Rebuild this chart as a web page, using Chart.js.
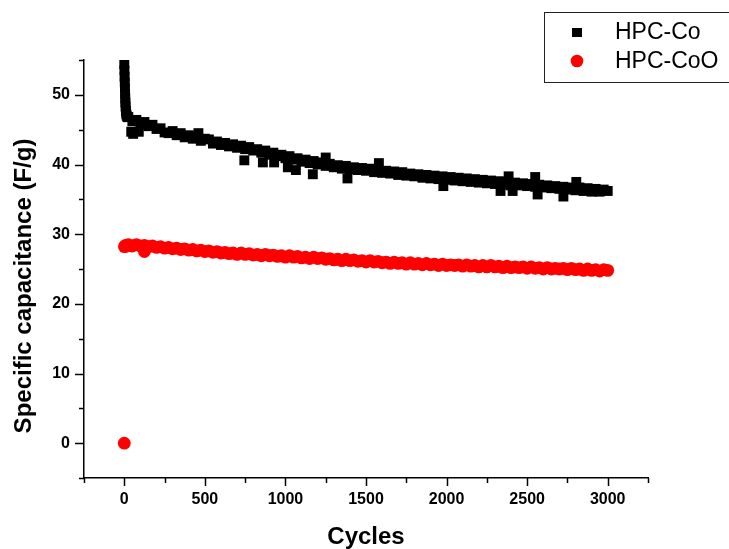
<!DOCTYPE html>
<html>
<head>
<meta charset="utf-8">
<script src="https://cdn.jsdelivr.net/npm/chart.js@4/dist/chart.umd.min.js"></script>
<style>
  html, body { margin: 0; padding: 0; background: #fff; }
  #wrap { width: 729px; height: 549px; position: relative; }
</style>
</head>
<body>
<div id="wrap"><canvas id="miGrafica" width="729" height="549"></canvas></div>
<script>
// Datos (ciclo -> capacitancia especifica F/g)
const seriesNames = ['HPC-Co', 'HPC-CoO'];

// rejilla comun de ciclos (cada 25)
const cycles = [
  25, 50, 75, 100, 125, 150, 175, 200, 225, 250,
  275, 300, 325, 350, 375, 400, 425, 450, 475, 500,
  525, 550, 575, 600, 625, 650, 675, 700, 725, 750,
  775, 800, 825, 850, 875, 900, 925, 950, 975, 1000,
  1025, 1050, 1075, 1100, 1125, 1150, 1175, 1200, 1225, 1250,
  1275, 1300, 1325, 1350, 1375, 1400, 1425, 1450, 1475, 1500,
  1525, 1550, 1575, 1600, 1625, 1650, 1675, 1700, 1725, 1750,
  1775, 1800, 1825, 1850, 1875, 1900, 1925, 1950, 1975, 2000,
  2025, 2050, 2075, 2100, 2125, 2150, 2175, 2200, 2225, 2250,
  2275, 2300, 2325, 2350, 2375, 2400, 2425, 2450, 2475, 2500,
  2525, 2550, 2575, 2600, 2625, 2650, 2675, 2700, 2725, 2750,
  2775, 2800, 2825, 2850, 2875, 2900, 2925, 2950, 2975, 3000
];

// HPC-Co
const startCyclesCo = [0, 1, 2, 3, 4, 5, 6, 7, 8, 10, 12, 15, 20];
const startCapCo = [54.4, 53.5, 52.6, 51.8, 51.0, 50.2, 49.5, 48.9, 48.3, 47.7, 47.3, 47.0, 46.8];
const capCo = [
  46.8, 46.2, 46.4, 45.8, 46.1, 45.5, 45.7, 45.1, 45.2, 44.6,
  44.5, 44.8, 44.2, 44.5, 43.9, 44.2, 43.7, 44.0, 43.4, 43.7,
  43.6, 43.0, 43.3, 42.8, 43.1, 42.6, 42.9, 42.4, 42.7, 42.2,
  42.5, 42.0, 42.2, 41.7, 42.0, 41.4, 41.7, 41.2, 41.4, 40.9,
  41.2, 40.7, 40.9, 40.4, 40.7, 40.2, 40.5, 40.0, 40.3, 39.8,
  40.1, 39.6, 39.9, 39.4, 39.8, 39.3, 39.6, 39.2, 39.5, 39.1,
  39.4, 38.9, 39.3, 38.8, 39.1, 38.7, 39.0, 38.5, 38.9, 38.4,
  38.7, 38.3, 38.6, 38.1, 38.5, 38.0, 38.4, 37.9, 38.3, 37.8,
  38.2, 37.7, 38.1, 37.6, 38.0, 37.5, 37.9, 37.4, 37.8, 37.3,
  37.7, 37.2, 37.6, 37.1, 37.5, 37.0, 37.4, 37.0, 37.3, 36.9,
  37.2, 36.8, 37.1, 36.7, 37.0, 36.6, 36.9, 36.5, 36.8, 36.4,
  36.7, 36.3, 36.7, 36.2, 36.6, 36.1, 36.5, 36.1, 36.4, 36.2
];
// puntos sueltos (fuera de la banda)
const spikeCyclesCo = [43, 55, 90, 460, 745, 860, 930, 1015, 1065, 1170, 1250, 1385, 1580, 1980, 2335, 2385, 2410, 2550, 2565, 2725, 2805];
const spikeCapCo = [44.7, 44.4, 44.7, 44.5, 40.6, 40.3, 40.3, 39.6, 39.2, 38.6, 41.0, 38.0, 40.2, 36.9, 36.2, 38.3, 36.2, 38.2, 35.7, 35.4, 37.5];

// HPC-CoO
const startCyclesCoO = [0, 1, 5, 10, 15, 20];
const startCapCoO = [0.0, 28.2, 28.3, 28.4, 28.3, 28.4];
const capCoO = [
  28.5, 28.3, 28.5, 28.3, 28.4, 28.2, 28.3, 28.1, 28.2, 28.0,
  28.1, 27.9, 28.0, 27.8, 27.9, 27.7, 27.8, 27.6, 27.7, 27.5,
  27.6, 27.4, 27.5, 27.3, 27.4, 27.2, 27.3, 27.1, 27.3, 27.1,
  27.2, 27.0, 27.1, 26.9, 27.1, 26.9, 27.0, 26.8, 26.9, 26.7,
  26.9, 26.7, 26.8, 26.6, 26.7, 26.5, 26.7, 26.5, 26.6, 26.4,
  26.5, 26.3, 26.4, 26.2, 26.4, 26.2, 26.3, 26.1, 26.2, 26.0,
  26.2, 26.0, 26.1, 25.9, 26.0, 25.8, 26.0, 25.8, 25.9, 25.7,
  25.9, 25.7, 25.8, 25.6, 25.8, 25.6, 25.7, 25.5, 25.7, 25.5,
  25.6, 25.5, 25.6, 25.4, 25.6, 25.4, 25.5, 25.3, 25.5, 25.3,
  25.5, 25.3, 25.4, 25.2, 25.4, 25.2, 25.3, 25.2, 25.3, 25.1,
  25.3, 25.1, 25.2, 25.0, 25.2, 25.0, 25.1, 25.0, 25.1, 24.9,
  25.1, 24.9, 25.0, 24.8, 25.0, 24.8, 24.9, 24.7, 24.9, 24.8
];
const spikeCyclesCoO = [125];
const spikeCapCoO = [27.5];

// ejes
const xTickLabels = [0, 500, 1000, 1500, 2000, 2500, 3000];
const yTickLabels = [0, 10, 20, 30, 40, 50];

function aPuntos(xs, ys) {
  return xs.map((x, i) => ({ x: x, y: ys[i] }));
}

const puntosCo = aPuntos(startCyclesCo, startCapCo)
  .concat(aPuntos(cycles, capCo))
  .concat(aPuntos(spikeCyclesCo, spikeCapCo));
const puntosCoO = aPuntos(startCyclesCoO, startCapCoO)
  .concat(aPuntos(cycles, capCoO))
  .concat(aPuntos(spikeCyclesCoO, spikeCapCoO));

const FUENTE = 'Arial, "Liberation Sans", sans-serif';

// marcas de los ejes, titulos y leyenda
const extras = {
  id: 'extras',
  afterDraw(chart) {
    const ctx = chart.ctx;
    const xs = chart.scales.x, ys = chart.scales.y;
    const area = chart.chartArea;
    ctx.save();
    ctx.strokeStyle = '#000';
    ctx.lineWidth = 1.5;
    // marcas del eje x
    xs.ticks.forEach(t => {
      const px = Math.round(xs.getPixelForValue(t.value)) + 0.5;
      const largo = xTickLabels.includes(t.value) ? 8 : 5;
      ctx.beginPath();
      ctx.moveTo(px, area.bottom);
      ctx.lineTo(px, area.bottom + largo);
      ctx.stroke();
    });
    // marcas del eje y
    ys.ticks.forEach(t => {
      const py = Math.round(ys.getPixelForValue(t.value)) + 0.5;
      const largo = yTickLabels.includes(t.value) ? 9 : 5;
      ctx.beginPath();
      ctx.moveTo(area.left, py);
      ctx.lineTo(area.left - largo, py);
      ctx.stroke();
    });

    // titulos de los ejes
    ctx.fillStyle = '#000';
    ctx.font = 'bold 24px ' + FUENTE;
    ctx.textAlign = 'center';
    ctx.textBaseline = 'middle';
    ctx.fillText('Cycles', (area.left + area.right) / 2, 537);
    ctx.save();
    ctx.translate(24, 286);
    ctx.rotate(-Math.PI / 2);
    ctx.font = 'bold 24px ' + FUENTE;
    ctx.fillText('Specific capacitance (F/g)', 0, 0);
    ctx.restore();

    // leyenda
    ctx.lineWidth = 1;
    ctx.strokeStyle = '#222';
    ctx.strokeRect(544.5, 12.5, 200, 70);
    ctx.fillStyle = '#000';
    ctx.fillRect(572, 28, 10, 9);
    ctx.fillStyle = '#ff0000';
    ctx.beginPath();
    ctx.arc(577, 61, 6.3, 0, Math.PI * 2);
    ctx.fill();
    ctx.fillStyle = '#000';
    ctx.font = '23px ' + FUENTE;
    ctx.textAlign = 'left';
    ctx.fillText(seriesNames[0], 615, 33);
    ctx.fillText(seriesNames[1], 615, 62);
    ctx.restore();
  }
};

let ctx = document.getElementById('miGrafica').getContext('2d');
let miGrafica = new Chart(ctx, {
  type: 'scatter',
  data: {
    datasets: [{
      label: seriesNames[0],
      data: puntosCo,
      pointStyle: 'rect',
      pointRadius: 7,
      backgroundColor: '#000',
      borderWidth: 0
    }, {
      label: seriesNames[1],
      data: puntosCoO,
      pointStyle: 'circle',
      pointRadius: 6.4,
      backgroundColor: '#ff0000',
      borderWidth: 0
    }]
  },
  options: {
    responsive: false,
    animation: false,
    events: [],
    layout: { padding: { top: 60, right: 81, left: 0, bottom: 0 } },
    plugins: {
      legend: { display: false },
      tooltip: { enabled: false }
    },
    scales: {
      x: {
        type: 'linear',
        min: -250,
        max: 3250,
        afterFit: s => { s.height = 71; },
        grid: { display: false, drawTicks: false },
        border: { display: true, color: '#000', width: 1.5 },
        ticks: {
          stepSize: 250,
          padding: 12,
          autoSkip: false,
          maxRotation: 0,
          minRotation: 0,
          color: '#000',
          font: { family: FUENTE, size: 16, weight: 'bold' },
          callback: v => xTickLabels.includes(v) ? String(v) : ''
        }
      },
      y: {
        type: 'linear',
        min: -5,
        max: 55,
        afterFit: s => { s.width = 84; },
        grid: { display: false, drawTicks: false },
        border: { display: true, color: '#000', width: 1.5 },
        ticks: {
          stepSize: 5,
          padding: 14,
          autoSkip: false,
          color: '#000',
          font: { family: FUENTE, size: 16, weight: 'bold' },
          callback: v => yTickLabels.includes(v) ? String(v) : ''
        }
      }
    }
  },
  plugins: [extras]
});
</script>
</body>
</html>
